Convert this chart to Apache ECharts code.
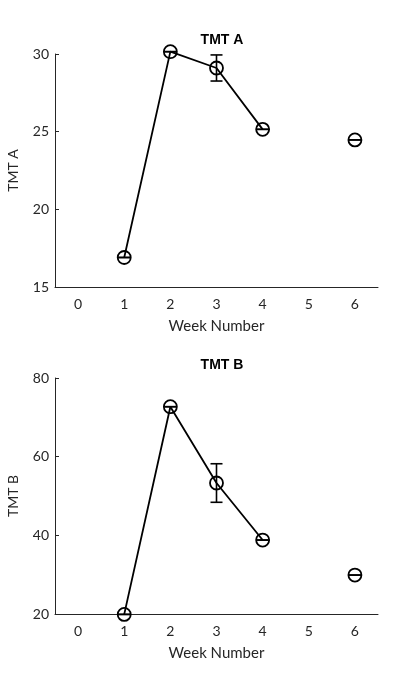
<!DOCTYPE html>
<html>
<head>
<meta charset="utf-8">
<script src="https://cdn.jsdelivr.net/npm/echarts@6/dist/echarts.min.js"></script>
<style>
  html, body { margin: 0; padding: 0; background: #fff; }
  #main { width: 420px; height: 690px; }
</style>
</head>
<body>
<div id="main"></div>
<script>
// week categories shown on both x axes
const weeks = ["0", "1", "2", "3", "4", "5", "6"];

// TMT A means and error (null = no session that week)
const tmtA = [null, 16.9, 30.15, 29.1, 25.15, null, 24.47];
const tmtAErr = [null, 0, 0, 0.84, 0, null, 0];

// TMT B means and error
const tmtB = [null, 19.9, 72.7, 53.3, 38.8, null, 29.9];
const tmtBErr = [null, 0, 0, 4.9, 0, null, 0];

const ink = "#262626";
const tickFont = "Lato, 'Open Sans', sans-serif";

// custom series data: [weekIndex, mean, err]
function errData(vals, errs) {
  const out = [];
  vals.forEach((v, i) => {
    if (v !== null) out.push([i, v, errs[i]]);
  });
  return out;
}

function renderErr(params, api) {
  const x = api.value(0);
  const m = api.value(1);
  const e = api.value(2);
  const top = api.coord([x, m + e]);
  const bot = api.coord([x, m - e]);
  const cap = 6;
  const style = { stroke: "#000", lineWidth: 1.6 };
  return {
    type: "group",
    children: [
      { type: "line", shape: { x1: top[0], y1: top[1], x2: bot[0], y2: bot[1] }, style: style },
      { type: "line", shape: { x1: top[0] - cap, y1: top[1], x2: top[0] + cap, y2: top[1] }, style: style },
      { type: "line", shape: { x1: bot[0] - cap, y1: bot[1], x2: bot[0] + cap, y2: bot[1] }, style: style }
    ]
  };
}

function xAxisFor(idx) {
  return {
    type: "category",
    gridIndex: idx,
    data: weeks,
    boundaryGap: true,
    name: "Week Number",
    nameLocation: "middle",
    nameGap: 32,
    nameTextStyle: { color: ink, fontSize: 15, fontFamily: tickFont },
    axisLine: { lineStyle: { color: ink, width: 1 } },
    axisTick: { inside: true, length: 4, alignWithLabel: true, lineStyle: { color: ink } },
    axisLabel: { color: ink, fontSize: 14, fontFamily: tickFont, margin: 10 },
    splitLine: { show: false }
  };
}

function yAxisFor(idx, name, min, max, interval) {
  return {
    type: "value",
    gridIndex: idx,
    min: min,
    max: max,
    interval: interval,
    name: name,
    nameLocation: "middle",
    nameGap: 35,
    nameTextStyle: { color: ink, fontSize: 14, fontFamily: tickFont },
    axisLine: { show: true, lineStyle: { color: ink, width: 1 } },
    axisTick: { show: true, inside: true, length: 4, lineStyle: { color: ink } },
    axisLabel: { color: ink, fontSize: 14, fontFamily: tickFont, margin: 6 },
    splitLine: { show: false }
  };
}

function lineSeries(idx, name, vals) {
  return {
    type: "line",
    name: name,
    xAxisIndex: idx,
    yAxisIndex: idx,
    data: vals,
    connectNulls: false,
    clip: false,
    symbol: "circle",
    symbolSize: 13,
    showSymbol: true,
    showAllSymbol: true,
    lineStyle: { color: "#000", width: 1.8 },
    itemStyle: { color: "rgba(0,0,0,0)", borderColor: "#000", borderWidth: 1.8 },
    animation: false,
    z: 3
  };
}

const option = {
  backgroundColor: "#fff",
  animation: false,
  title: [
    {
      text: "TMT A",
      left: 217,
      top: 28,
      textAlign: "center",
      textStyle: { color: "#000", fontSize: 14, fontWeight: "bold", fontFamily: "'Liberation Sans', Arial, sans-serif" }
    },
    {
      text: "TMT B",
      left: 217,
      top: 353,
      textAlign: "center",
      textStyle: { color: "#000", fontSize: 14, fontWeight: "bold", fontFamily: "'Liberation Sans', Arial, sans-serif" }
    }
  ],
  grid: [
    { left: 55, width: 323, top: 54, height: 233, outerBoundsMode: "none", containLabel: false },
    { left: 55, width: 323, top: 378, height: 236, outerBoundsMode: "none", containLabel: false }
  ],
  xAxis: [xAxisFor(0), xAxisFor(1)],
  yAxis: [yAxisFor(0, "TMT A", 15, 30, 5), yAxisFor(1, "TMT B", 20, 80, 20)],
  series: [
    lineSeries(0, "TMT A", tmtA),
    {
      type: "custom",
      xAxisIndex: 0,
      yAxisIndex: 0,
      data: errData(tmtA, tmtAErr),
      renderItem: renderErr,
      clip: false,
      z: 4
    },
    lineSeries(1, "TMT B", tmtB),
    {
      type: "custom",
      xAxisIndex: 1,
      yAxisIndex: 1,
      data: errData(tmtB, tmtBErr),
      renderItem: renderErr,
      clip: false,
      z: 4
    }
  ]
};

const chart = echarts.init(document.getElementById("main"));
chart.setOption(option);
</script>
</body>
</html>
